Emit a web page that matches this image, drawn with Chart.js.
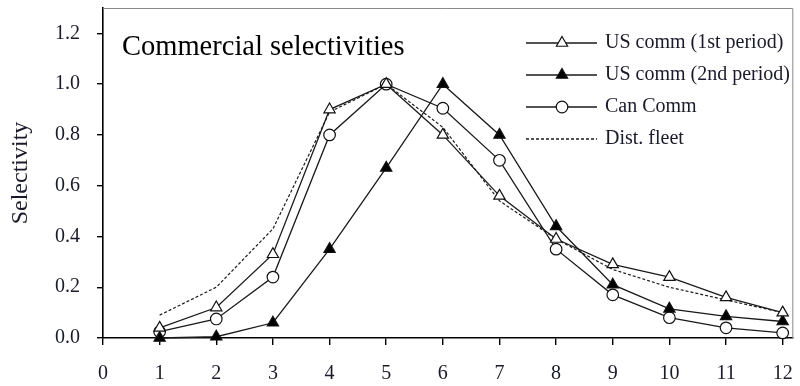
<!DOCTYPE html>
<html>
<head>
<meta charset="utf-8">
<script src="https://cdn.jsdelivr.net/npm/chart.js@4.4.1/dist/chart.umd.min.js"></script>
<style>
  html, body { margin: 0; padding: 0; background: #fff; }
</style>
</head>
<body>
<canvas id="selectivity" width="800" height="386"></canvas>
<script>
// age classes and selectivity by fleet
const ages = [1, 2, 3, 4, 5, 6, 7, 8, 9, 10, 11, 12];
const usFirst = [0.04, 0.12, 0.33, 0.90, 1.00, 0.80, 0.56, 0.39, 0.29, 0.24, 0.16, 0.10];
const usSecond = [0.00, 0.005, 0.06, 0.35, 0.67, 1.00, 0.80, 0.44, 0.21, 0.115, 0.085, 0.065];
const canComm = [0.025, 0.075, 0.24, 0.80, 1.00, 0.905, 0.70, 0.35, 0.17, 0.08, 0.04, 0.02];
const distFleet = [0.09, 0.20, 0.43, 0.89, 1.00, 0.83, 0.54, 0.39, 0.27, 0.20, 0.15, 0.10];
const seriesNames = ['US comm (1st period)', 'US comm (2nd period)', 'Can Comm', 'Dist. fleet'];
const chartTitle = 'Commercial selectivities';

const SERIF = '"Liberation Serif", "Times New Roman", serif';
const INK = '#1a1a2a';

const toPoints = vals => vals.map((v, i) => ({ x: ages[i], y: v }));

function lineSeries(label, vals, extra) {
  return Object.assign({
    label: label,
    data: toPoints(vals),
    borderColor: '#1a1a1a',
    borderWidth: 1.3,
    pointBorderColor: '#111',
    pointBorderWidth: 1.2,
    tension: 0,
    clip: false,
  }, extra);
}

const datasets = [
  lineSeries(seriesNames[0], usFirst, { pointStyle: 'triangle', pointRadius: 6.5, pointBackgroundColor: '#fff' }),
  lineSeries(seriesNames[1], usSecond, { pointStyle: 'triangle', pointRadius: 6.5, pointBackgroundColor: '#000' }),
  lineSeries(seriesNames[2], canComm, { pointStyle: 'circle', pointRadius: 5.8, pointBackgroundColor: '#fff' }),
  lineSeries(seriesNames[3], distFleet, { pointRadius: 0, borderDash: [3, 2], borderWidth: 1.2 }),
];

// drop the half-label padding chart.js reserves at the ends of each axis
function noEdgePadding(s) {
  s.paddingTop = 0;
  s.paddingBottom = 0;
  s.paddingLeft = 0;
  s.paddingRight = 0;
}

// title text, top/right frame and the legend box drawn on top of the plot
const decorations = {
  id: 'decorations',
  afterDatasetsDraw(chart) {
    const { ctx, chartArea: a } = chart;
    ctx.save();

    ctx.strokeStyle = '#8a8a8a';
    ctx.lineWidth = 1;
    ctx.beginPath();
    ctx.moveTo(a.left, a.top + 0.5);
    ctx.lineTo(a.right + 0.5, a.top + 0.5);
    ctx.lineTo(a.right + 0.5, a.bottom);
    ctx.stroke();

    ctx.fillStyle = '#000';
    ctx.font = '28.5px ' + SERIF;
    ctx.textBaseline = 'middle';
    ctx.textAlign = 'left';
    ctx.fillText(chartTitle, 122, 48);

    const rowY = [43, 75, 107, 139];
    const x0 = 526, x1 = 597, xm = 562;
    ctx.font = '20px ' + SERIF;
    datasets.forEach((ds, i) => {
      const y = rowY[i];
      ctx.strokeStyle = '#1a1a1a';
      ctx.lineWidth = 1.3;
      ctx.setLineDash(ds.borderDash || []);
      ctx.beginPath();
      ctx.moveTo(x0, y);
      ctx.lineTo(x1, y);
      ctx.stroke();
      ctx.setLineDash([]);
      if (ds.pointRadius > 0) {
        ctx.fillStyle = ds.pointBackgroundColor;
        ctx.strokeStyle = '#111';
        ctx.lineWidth = 1.2;
        Chart.helpers.drawPoint(ctx, {
          pointStyle: ds.pointStyle, radius: ds.pointRadius, borderWidth: 1.2, rotation: 0
        }, xm, y);
      }
      ctx.fillStyle = INK;
      ctx.fillText(ds.label, 605, y);
    });
    ctx.restore();
  }
};

new Chart(document.getElementById('selectivity'), {
  type: 'line',
  data: { datasets: datasets },
  plugins: [decorations],
  options: {
    responsive: false,
    animation: false,
    layout: { padding: { top: 8, right: 3, left: 0, bottom: 0 } },
    plugins: {
      legend: { display: false },
      tooltip: { enabled: false },
    },
    scales: {
      x: {
        type: 'linear',
        min: 0,
        max: 12.17,
        afterFit: s => { s.height = 48; noEdgePadding(s); },
        border: { display: true, color: '#000', width: 1.6 },
        grid: { drawOnChartArea: false, drawTicks: true, tickLength: 7, color: '#000', lineWidth: 1.4 },
        ticks: {
          stepSize: 1,
          includeBounds: false,
          autoSkip: false,
          maxRotation: 0,
          padding: 17,
          color: INK,
          font: { family: SERIF, size: 20 },
        },
      },
      y: {
        min: 0,
        max: 1.3,
        afterFit: s => { s.width = 103; noEdgePadding(s); },
        border: { display: true, color: '#000', width: 1.6 },
        grid: { drawOnChartArea: false, drawTicks: true, tickLength: 6, color: '#000', lineWidth: 1.4 },
        ticks: {
          stepSize: 0.2,
          includeBounds: false,
          padding: 17,
          color: INK,
          font: { family: SERIF, size: 20 },
          callback: v => Number(v).toFixed(1),
        },
        title: {
          display: true,
          text: 'Selectivity',
          color: INK,
          font: { family: SERIF, size: 24 },
          padding: { top: 6, bottom: 0 },
        },
      },
    },
  },
});
</script>
</body>
</html>
